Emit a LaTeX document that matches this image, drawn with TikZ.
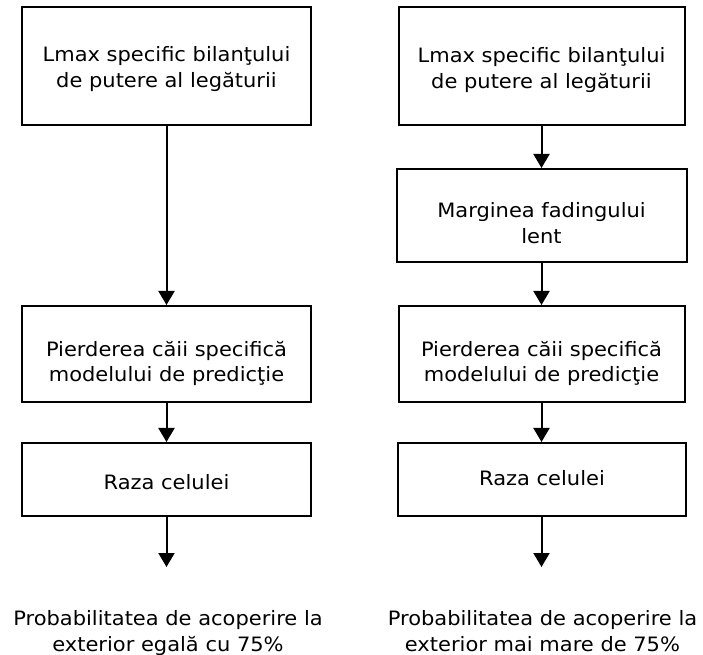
\documentclass[tikz,border=0pt]{standalone}
\usepackage{fontspec}
\setmainfont[FakeStretch=1.06]{DejaVu Sans}
\usetikzlibrary{arrows.meta}
\def\pxu{0.75pt}
\begin{document}
\begin{tikzpicture}[x=0.75pt,y=-0.75pt,
  txt/.style={font=\fontsize{14.85}{19.2}\selectfont},
  box/.style={txt, draw, line width=1.5pt, inner sep=0pt, align=center, text depth=0pt},
  arr/.style={-{Triangle[width=12pt,length=10.5pt]}, line width=1.5pt},
  lbl/.style={txt, inner sep=0pt, align=center, anchor=base}]
\useasboundingbox (0,0) rectangle (703,655);
% left column
\node[box, minimum width=289*\pxu, minimum height=118*\pxu, text height=42.6*\pxu] (l1) at (166.5,66) {Lmax specific bilanţului\\de putere al legăturii};
\node[box, minimum width=289*\pxu, minimum height=96*\pxu, text height=55.4*\pxu] (l2) at (166.5,354) {Pierderea căii specifică\\modelului de predicţie};
\node[box, minimum width=289*\pxu, minimum height=73*\pxu, text height=19.6*\pxu] (l3) at (166.5,479.5) {Raza celulei};
\coordinate (le) at (166.5,567);
\node[lbl] (t1) at (168,651) {Probabilitatea de acoperire la\\exterior egală cu 75\%};
\draw[arr] (l1.south) -- (l2.north);
\draw[arr] (l2.south) -- (l3.north);
\draw[arr] (l3.south) -- (le);
% right column
\node[box, minimum width=286*\pxu, minimum height=118*\pxu, text height=44.6*\pxu] (r1) at (541.5,66) {Lmax specific bilanţului\\de putere al legăturii};
\node[box, minimum width=290*\pxu, minimum height=93*\pxu, text height=55.6*\pxu] (r2) at (541.5,215.5) {Marginea fadingului\\lent};
\node[box, minimum width=286*\pxu, minimum height=96*\pxu, text height=55.4*\pxu] (r3) at (541.5,354) {Pierderea căii specifică\\modelului de predicţie};
\node[box, minimum width=288*\pxu, minimum height=73*\pxu, text height=11*\pxu] (r4) at (542,479.5) {Raza celulei};
\coordinate (re) at (541.5,567);
\node[lbl] (t2) at (542.5,651) {Probabilitatea de acoperire la\\exterior mai mare de 75\%};
\draw[arr] (r1.south) -- (r2.north);
\draw[arr] (r2.south) -- (r3.north);
\draw[arr] (r3.south) -- (r3.south |- r4.north);
\draw[arr] (r3.south |- r4.south) -- (re);
\end{tikzpicture}
\end{document}
